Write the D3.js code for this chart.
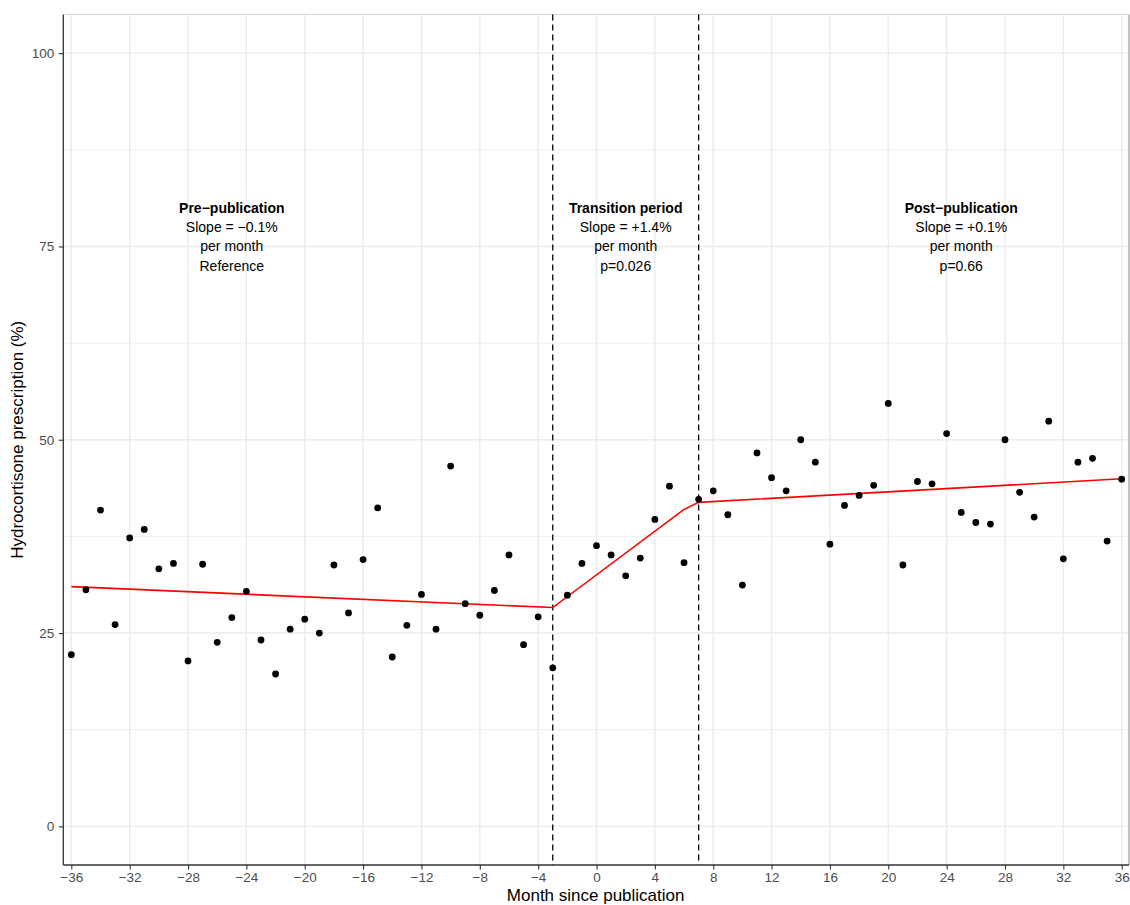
<!DOCTYPE html>
<html>
<head>
<meta charset="utf-8">
<script src="https://cdn.jsdelivr.net/npm/d3@7"></script>
<style>
  html, body { margin: 0; padding: 0; background: #fff; }
  svg { display: block; font-family: "Liberation Sans", Arial, Helvetica, sans-serif; }
</style>
</head>
<body>
<svg id="chart" width="1130" height="905"></svg>
<script>
// ---- data ----
const months = d3.range(-36, 37);
const prescription = [
  22.2, 30.6, 40.9, 26.1, 37.3, 38.4, 33.3, 34.0, 21.4, 33.9,
  23.8, 27.0, 30.4, 24.1, 19.7, 25.5, 26.8, 25.0, 33.8, 27.6,
  34.5, 41.2, 21.9, 26.0, 30.0, 25.5, 46.6, 28.8, 27.3, 30.5,
  35.1, 23.5, 27.1, 20.5, 29.9, 34.0, 36.3, 35.1, 32.4, 34.7,
  39.7, 44.0, 34.1, 42.3, 43.4, 40.3, 31.2, 48.3, 45.1, 43.4,
  50.0, 47.1, 36.5, 41.5, 42.8, 44.1, 54.7, 33.8, 44.6, 44.3,
  50.8, 40.6, 39.3, 39.1, 50.0, 43.2, 40.0, 52.4, 34.6, 47.1,
  47.6, 36.9, 44.9
];
const fitMonths = [-36, -3, 6, 7, 36];
const fitValues = [31.0, 28.3, 41.0, 41.9, 44.95];
const cutpoints = [-3, 7];
const xTicks = d3.range(-36, 37, 4);
const yTicks = [0, 25, 50, 75, 100];
const yMinor = [12.5, 37.5, 62.5, 87.5];
const annotations = [
  { x: -25, lines: ["Pre\u2212publication", "Slope = \u22120.1%", "per month", "Reference"] },
  { x: 2,   lines: ["Transition period", "Slope = +1.4%", "per month", "p=0.026"] },
  { x: 25,  lines: ["Post\u2212publication", "Slope = +0.1%", "per month", "p=0.66"] }
];
const annotYs = [80, 77.5, 75, 72.5];
const xTitle = "Month since publication";
const yTitle = "Hydrocortisone prescription (%)";

// ---- layout ----
const L = 63.3, R = 1129, T = 14.5, B = 865;
const svg = d3.select("#chart");
const x = d3.scaleLinear().domain([-36.55, 36.5]).range([L, R]);
const y = d3.scaleLinear().domain([-5, 105]).range([B, T]);
const fmt = v => (v < 0 ? "\u2212" + Math.abs(v) : String(v));

// grid
const g = svg.append("g");
g.selectAll(".ymin").data(yMinor).join("line")
  .attr("x1", L).attr("x2", R).attr("y1", d => y(d)).attr("y2", d => y(d))
  .attr("stroke", "#ebebeb").attr("stroke-width", 0.8);
g.selectAll(".ymaj").data(yTicks).join("line")
  .attr("x1", L).attr("x2", R).attr("y1", d => y(d)).attr("y2", d => y(d))
  .attr("stroke", "#ebebeb").attr("stroke-width", 1.4);
g.selectAll(".xmaj").data(xTicks).join("line")
  .attr("y1", T).attr("y2", B).attr("x1", d => x(d)).attr("x2", d => x(d))
  .attr("stroke", "#ebebeb").attr("stroke-width", 1.4);

// panel border (top/right light)
svg.append("line").attr("x1", L).attr("x2", R).attr("y1", T).attr("y2", T)
  .attr("stroke", "#d4d4d4").attr("stroke-width", 1.2);
svg.append("line").attr("x1", R).attr("x2", R).attr("y1", T).attr("y2", B)
  .attr("stroke", "#9a9a9a").attr("stroke-width", 1.2);

// dashed cutpoints
svg.selectAll(".cut").data(cutpoints).join("line")
  .attr("x1", d => x(d)).attr("x2", d => x(d)).attr("y1", T).attr("y2", B)
  .attr("stroke", "#000").attr("stroke-width", 1.3).attr("stroke-dasharray", "6,4");

// fitted line
svg.append("path")
  .datum(d3.zip(fitMonths, fitValues))
  .attr("fill", "none").attr("stroke", "#ff0000").attr("stroke-width", 1.6)
  .attr("d", d3.line().x(d => x(d[0])).y(d => y(d[1])));

// points
svg.selectAll(".pt").data(d3.zip(months, prescription)).join("circle")
  .attr("cx", d => x(d[0])).attr("cy", d => y(d[1])).attr("r", 3.4).attr("fill", "#000");

// annotations
annotations.forEach(a => {
  a.lines.forEach((t, i) => {
    svg.append("text")
      .attr("x", x(a.x)).attr("y", y(annotYs[i]))
      .attr("dy", "0.36em").attr("text-anchor", "middle")
      .attr("font-size", 14).attr("fill", "#000")
      .attr("font-weight", i === 0 ? "bold" : "normal")
      .text(t);
  });
});

// axes
const xAxis = svg.append("g").attr("transform", `translate(0,${B})`)
  .call(d3.axisBottom(x).tickValues(xTicks).tickFormat(fmt).tickSize(4.5).tickPadding(3));
const yAxis = svg.append("g").attr("transform", `translate(${L},0)`)
  .call(d3.axisLeft(y).tickValues(yTicks).tickFormat(fmt).tickSize(4.5).tickPadding(4.5));
[xAxis, yAxis].forEach(ax => {
  ax.select(".domain").attr("stroke", "#333").attr("stroke-width", 1.3);
  ax.selectAll(".tick line").attr("stroke", "#333").attr("stroke-width", 1.1);
  ax.selectAll(".tick text").attr("fill", "#4d4d4d").attr("font-size", 13.5)
    .attr("font-family", "Liberation Sans, Arial, sans-serif");
});
xAxis.select(".domain").attr("d", `M${L},0H${R}`);
yAxis.select(".domain").attr("d", `M0,${B}V${T}`);

// titles
svg.append("text").attr("x", (L + R) / 2 - 0.5).attr("y", 901)
  .attr("text-anchor", "middle").attr("font-size", 17).attr("fill", "#000").text(xTitle);
svg.append("text").attr("transform", `translate(23,${(T + B) / 2}) rotate(-90)`)
  .attr("text-anchor", "middle").attr("font-size", 17).attr("fill", "#000").text(yTitle);
</script>
</body>
</html>
